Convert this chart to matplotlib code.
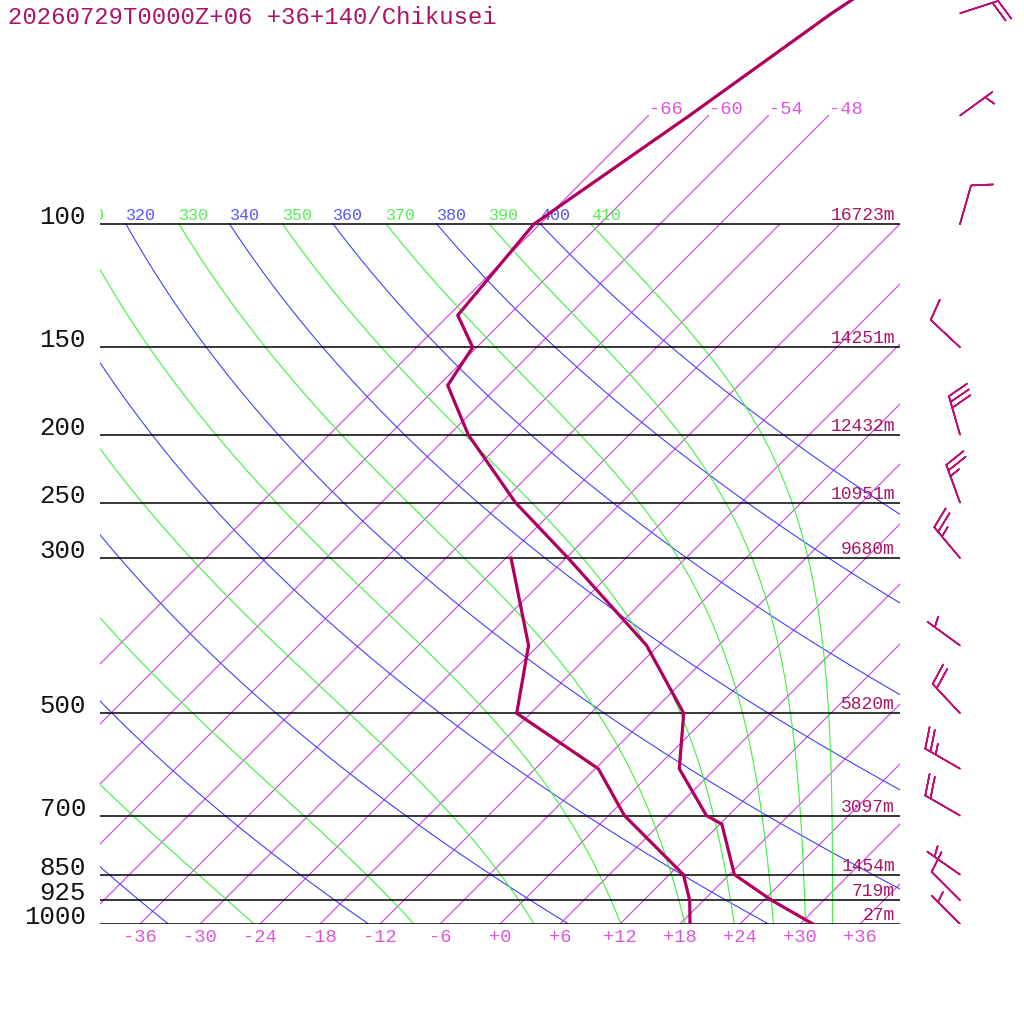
import numpy as np
import matplotlib
matplotlib.use("Agg")
import matplotlib.pyplot as plt
import matplotlib.transforms as mtransforms

# --- sounding data ---
temp_p = [1000, 925, 850, 720, 700, 600, 500, 400, 300, 250, 200, 170, 150, 135, 100, 70, 50, 30]
temp_c = [31.3, 24.8, 18.5, 12.2, 9.8, 2.4, -2.7, -13.2, -29.8, -40.6, -52.1, -59.1, -60.4, -65.1,
          -66.6, -61.9, -57.9, -50.0]
dew_p = [1000, 925, 850, 700, 600, 500, 400, 300]
dew_c = [19.0, 16.6, 13.4, 1.6, -5.7, -19.4, -25.0, -35.5]

level_p = [100, 150, 200, 250, 300, 500, 700, 850, 925, 1000]
level_z = [16723, 14251, 12432, 10951, 9680, 5820, 3097, 1454, 719, 27]

wind_p = [1000, 925, 850, 700, 600, 500, 400, 300, 250, 200, 150, 100, 70, 50]
wind_dir = [315, 315, 305, 300, 300, 317, 306, 320, 340, 344, 313, 16, 54, 72]
wind_kt = [5, 10, 5, 20, 25, 20, 5, 25, 25, 30, 10, 10, 5, 20]

isotherms = list(range(-66, 37, 6))
top_isotherms = [-66, -60, -54, -48]
theta_lines = list(range(240, 401, 20))
thetae_lines = list(range(250, 411, 20))
bottom_ticks = list(range(-36, 37, 6))

title = "20260729T0000Z+06 +36+140/Chikusei"

SKEW = 70.0
P_TOP = 1000.0 * 10 ** (-924.0 / 700.0)
MONO = "Liberation Mono"

C_ISO = "#d040e0"
C_ISO_TXT = "#dd55dd"
C_DRY = "#4040ff"
C_MOIST = "#40f040"
C_PROF = "#b0005f"
C_TXT = "#aa1466"


def skew_x(t, p):
    return np.asarray(t, dtype=float) + SKEW * np.log10(1000.0 / np.asarray(p, dtype=float))


def theta_e(tk, p):
    tc = tk - 273.15
    es = 6.112 * np.exp(17.67 * tc / (tc + 243.5))
    es = np.minimum(es, 0.5 * p)
    r = 622.0 * es / (p - es)
    return (tk * (1000.0 / p) ** (0.2854 * (1 - 0.28e-3 * r))
            * np.exp((3.376 / tk - 0.00254) * r * (1 + 0.81e-3 * r)))


def moist_adiabat(te, p):
    lo = np.full_like(p, 120.0)
    hi = np.full_like(p, 340.0)
    for _ in range(60):
        mid = 0.5 * (lo + hi)
        above = theta_e(mid, p) > te
        hi = np.where(above, mid, hi)
        lo = np.where(above, lo, mid)
    return 0.5 * (lo + hi) - 273.15


def offset(dx=0, dy=0):
    return mtransforms.offset_copy(ax.transData, fig=fig, x=dx, y=dy, units="dots")


fig = plt.figure(figsize=(10.24, 10.24), dpi=100)
fig.patch.set_facecolor("white")
ax = fig.add_axes([100 / 1024, 100 / 1024, 800 / 1024, 924 / 1024])
ax.set_yscale("log")
ax.set_xlim(-40, 40)
ax.set_ylim(1000, P_TOP)
ax.axis("off")

pp = np.logspace(3, 2, 300)

# isotherms
for t in isotherms:
    top = 70 if t in top_isotherms else 100
    ps = np.array([1000.0, top])
    ax.plot(skew_x([t, t], ps), ps, color=C_ISO, lw=0.8, zorder=2)
    if t in top_isotherms:
        ax.text(skew_x(t, top), top, f"{t}", color=C_ISO_TXT, fontsize=13.5, family=MONO,
                ha="left", va="bottom", transform=offset(1, -2))

# dry adiabats
for th in theta_lines:
    tt = th * (pp / 1000.0) ** 0.2857 - 273.15
    ax.plot(skew_x(tt, pp), pp, color=C_DRY, lw=0.8, zorder=2)
    if skew_x(tt[-1], 100) > -44:
        ax.text(skew_x(tt[-1], 100), 100, str(th), color="#5555ff", fontsize=12, family=MONO,
                ha="left", va="bottom", clip_on=True, transform=offset(0, 1))

# moist adiabats (labelled by theta-e)
for te in thetae_lines:
    tt = moist_adiabat(te, pp)
    ax.plot(skew_x(tt, pp), pp, color=C_MOIST, lw=0.8, zorder=2)
    if skew_x(tt[-1], 100) > -44:
        ax.text(skew_x(tt[-1], 100), 100, str(te), color="#55ee55", fontsize=12, family=MONO,
                ha="left", va="bottom", clip_on=True, transform=offset(0, 1))

# pressure levels, heights and labels
for p, z in zip(level_p, level_z):
    ax.plot([-40, 40], [p, p], color="black", lw=1.1, zorder=3)
    ax.text(39.5, p, f"{z}m", color=C_TXT, fontsize=13, family=MONO, ha="right", va="bottom",
            zorder=5)
    ax.text(-41.4, p, str(p), color="#111111", fontsize=18.5, family=MONO, ha="right",
            va="center", clip_on=False, transform=offset(0, 7))

# bottom temperature labels
for t in bottom_ticks:
    lab = f"{t:+d}" if t != 0 else "+0"
    ax.text(t, 1000, lab, color=C_ISO_TXT, fontsize=13.5, family=MONO, ha="center",
            va="center", clip_on=False, transform=offset(0, -13))

# temperature and dew point profiles
ax.plot(skew_x(temp_c, temp_p), temp_p, color=C_PROF, lw=2.3, zorder=6,
        solid_joinstyle="miter")
ax.plot(skew_x(dew_c, dew_p), dew_p, color=C_PROF, lw=2.3, zorder=6,
        solid_joinstyle="miter")

# wind barbs
bx = fig.add_axes([900 / 1024, 100 / 1024, 124 / 1024, 924 / 1024])
bx.set_xlim(900, 1024)
bx.set_yscale("log")
bx.set_ylim(1000, P_TOP)
bx.axis("off")
rad = np.deg2rad(wind_dir)
spd = np.asarray(wind_kt, dtype=float)
u = -spd * np.sin(rad)
v = -spd * np.cos(rad)
bx.barbs(np.full(len(wind_p), 960.0), wind_p, u, v, length=7.6, color="#bb1177",
         linewidth=1.2, sizes=dict(spacing=0.15, height=0.52, width=0.35, emptybarb=0.0))

fig.text(8 / 1024, 1 - 18 / 1024, title, color=C_TXT, fontsize=17.2, family=MONO,
         ha="left", va="center")

fig.savefig("out.png", dpi=100, facecolor="white")
